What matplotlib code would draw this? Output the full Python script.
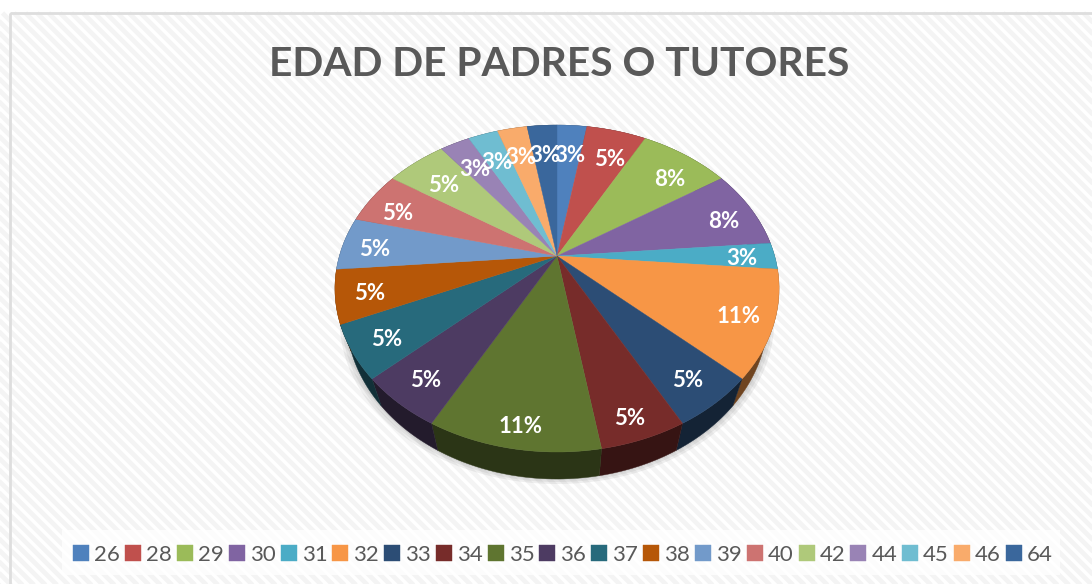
import numpy as np

import matplotlib
matplotlib.use("Agg")
import matplotlib.pyplot as plt
from matplotlib.collections import LineCollection
from matplotlib.patches import Rectangle
from matplotlib.transforms import Affine2D, Transform

plt.rcParams['font.family'] = ['Lato', 'DejaVu Sans']

title = "EDAD DE PADRES O TUTORES"
ages = ["26", "28", "29", "30", "31", "32", "33", "34", "35", "36",
        "37", "38", "39", "40", "42", "44", "45", "46", "64"]
counts = [1, 2, 3, 3, 1, 4, 2, 2, 4, 2, 2, 2, 2, 2, 2, 1, 1, 1, 1]
top_colors = ["#4F81BD", "#C0504D", "#9BBB59", "#8064A2", "#4BACC6", "#F79646",
              "#2C4D75", "#772C2A", "#5F7530", "#4D3B62", "#276A7C", "#B65708",
              "#729ACA", "#CD7371", "#AFC97A", "#9983B5", "#6FBDD1", "#F9AB6B",
              "#3A679C"]

W, H = 1092, 584
# centre of the pie and the fake 3d tilt, in image pixels
CX, CY = 557, 256
BX, BY, TILT = 217.6, 157.0, 0.199
DEPTH = 27
SHRINK = 0.95


def project(_x, _y):
    _d = 1 + TILT * _y
    return CX + BX * _x / _d, CY - BY * _y / _d


class TiltTransform(Transform):
    input_dims = 2
    output_dims = 2
    is_separable = False
    has_inverse = False

    def transform_non_affine(self, values):
        _px, _py = project(values[:, 0], values[:, 1])
        return np.column_stack([_px, _py])


def shift_down(_px, _py, _grow=1.0, _extra=0.0):
    return CX + SHRINK * _grow * (_px - CX), _py + DEPTH + _extra


fig = plt.figure(figsize=(W / 100, H / 100), dpi=100)
ax = fig.add_axes([0, 0, 1, 1])

wedges, _, pct_texts = ax.pie(counts, colors=top_colors, startangle=90, counterclock=False,
                              autopct="%.0f%%", pctdistance=0.85,
                              textprops={'color': 'white', 'fontsize': 16, 'fontweight': 'bold'})
ax.set_aspect('auto')
ax.set_xlim(0, W)
ax.set_ylim(H, 0)

tilt = TiltTransform()
label_shift = Affine2D().translate(0, 3)
for w, c in zip(wedges, top_colors):
    w.set_transform(tilt + ax.transData)
    w.set_edgecolor(c)
    w.set_linewidth(0.3)
    w.set_zorder(5)
for t in pct_texts:
    # excel keeps the labels a bit further in at the back of the pie
    x, y = t.get_position()
    if y > 0:
        y *= 0.9
    if y > 0.45 and x < 0:
        x *= 0.92
    if y < -0.75:
        y *= 1.05
    t.set_position((x, y))
    t.set_transform(tilt + label_shift + ax.transData)
    t.set_zorder(6)

# background panel with the diagonal stripes
ax.add_patch(Rectangle((10, 13), W, H, facecolor='white', edgecolor='none', zorder=0))
stripes = [[(s, 13), (s + H, 13 + H)] for s in np.arange(-H, W, 11.5)]
clip_box = Rectangle((10, 13), W, H, transform=ax.transData)
lc = LineCollection(stripes, colors='#F4F4F4', linewidths=3.4, zorder=0.5)
lc.set_clip_path(clip_box)
ax.add_collection(lc)
ax.add_patch(Rectangle((10, 13), W, H, facecolor='none', edgecolor='#DEDEDE', linewidth=2, zorder=0.6))

# soft shadow below the pie
t_all = np.linspace(0, 2 * np.pi, 240)
rim_x, rim_y = project(np.cos(t_all), np.sin(t_all))
for extra, grow in [(5, 1.03), (3, 1.02), (1, 1.01)]:
    sx, sy = shift_down(rim_x, rim_y, grow, extra)
    ax.fill(sx, sy, color='#808080', alpha=0.12, lw=0, zorder=1)

# side of the pie, the top covers whatever is not on the rim
for w, c in zip(wedges, top_colors):
    t = np.radians(np.linspace(w.theta1, w.theta2, 40))
    px, py = project(np.cos(t), np.sin(t))
    qx, qy = shift_down(px, py)
    rgb = np.array(matplotlib.colors.to_rgb(c)) * 0.45
    ax.fill(np.r_[px, qx[::-1]], np.r_[py, qy[::-1]], color=rgb, lw=0.3, zorder=2)

ax.text(559, 65, title, color='#595959', fontsize=29.3, fontweight='bold', ha='center', va='center')

ax.add_patch(Rectangle((62, 530), 998, 45, facecolor='white', alpha=0.75, edgecolor='none', zorder=1))
fs = 16
px_em = fs * 100 / 72
leg = ax.legend(wedges, ages, ncol=len(ages), loc='center', bbox_to_anchor=(563 / W, 1 - 555 / H),
                frameon=False, fontsize=fs, labelcolor='#595959',
                handlelength=16 / px_em, handleheight=16 / px_em,
                handletextpad=5 / px_em, columnspacing=5 / px_em, borderpad=0, labelspacing=0)
leg.set_zorder(7)

fig.savefig("out.png", dpi=100)
